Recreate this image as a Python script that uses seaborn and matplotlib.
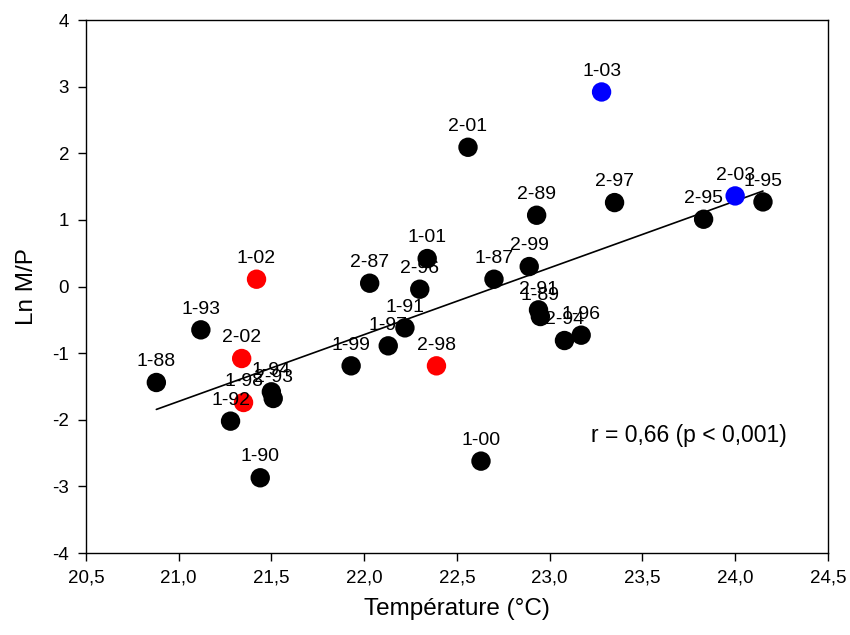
import numpy as np
import pandas as pd
import matplotlib
matplotlib.use("Agg")
import matplotlib.pyplot as plt
from matplotlib.ticker import FuncFormatter
import seaborn as sns

# Station-year codes, water temperature (°C) and ln(M/P)
codes = ["1-88", "1-93", "1-02", "2-02", "1-98", "1-92", "1-94", "2-93", "1-90",
         "1-99", "1-97", "1-91", "2-87", "2-96", "1-01", "2-98", "2-01", "1-87",
         "2-99", "2-89", "2-91", "1-89", "2-94", "1-96", "1-00", "1-03", "2-97",
         "2-95", "2-03", "1-95"]
temperature = [20.88, 21.12, 21.42, 21.34, 21.35, 21.28, 21.50, 21.51, 21.44,
               21.93, 22.13, 22.22, 22.03, 22.30, 22.34, 22.39, 22.56, 22.70,
               22.89, 22.93, 22.94, 22.95, 23.08, 23.17, 22.63, 23.28, 23.35,
               23.83, 24.00, 24.15]
ln_mp = [-1.44, -0.65, 0.11, -1.08, -1.74, -2.02, -1.58, -1.68, -2.87,
         -1.19, -0.89, -0.62, 0.05, -0.04, 0.42, -1.19, 2.09, 0.11,
         0.30, 1.07, -0.35, -0.45, -0.81, -0.73, -2.62, 2.92, 1.26,
         1.01, 1.36, 1.27]
group = ["base", "base", "red", "red", "red", "base", "base", "base", "base",
         "base", "base", "base", "base", "base", "base", "red", "base", "base",
         "base", "base", "base", "base", "base", "base", "base", "blue", "base",
         "base", "blue", "base"]

x_ticks = [20.5, 21.0, 21.5, 22.0, 22.5, 23.0, 23.5, 24.0, 24.5]
y_ticks = [-4, -3, -2, -1, 0, 1, 2, 3, 4]
stat_text = "r = 0,66 (p < 0,001)"

df = pd.DataFrame({"code": codes, "temp": temperature, "lnmp": ln_mp, "grp": group})

sns.set_style("ticks")
plt.rcParams["font.family"] = ["Liberation Sans", "DejaVu Sans"]
plt.rcParams["text.color"] = "black"
plt.rcParams["axes.labelcolor"] = "black"

fig = plt.figure(figsize=(8.5, 6.35), dpi=100)
ax = fig.add_axes([0.101, 0.129, 0.873, 0.8395])

# colored points below the labels
sns.scatterplot(data=df[df.grp == "red"], x="temp", y="lnmp", color="#ff0000",
                s=195, edgecolor="none", ax=ax, zorder=2, legend=False)

for _, row in df.iterrows():
    ax.annotate(row.code, (row.temp, row.lnmp), xytext=(0, 15),
                textcoords="offset points", ha="center", va="center",
                fontsize=14, color="black", zorder=3)

# least-squares regression line
sns.regplot(data=df, x="temp", y="lnmp", scatter=False, ci=None, truncate=True,
            ax=ax, line_kws={"color": "black", "lw": 1.2, "zorder": 4})

sns.scatterplot(data=df[df.grp == "blue"], x="temp", y="lnmp", color="#0000ff",
                s=195, edgecolor="none", ax=ax, zorder=5, legend=False)
sns.scatterplot(data=df[df.grp == "base"], x="temp", y="lnmp", color="black",
                s=195, edgecolor="none", ax=ax, zorder=5, legend=False)

ax.text(23.75, -2.24, stat_text, ha="center", va="center", fontsize=16.5,
        color="black")

ax.set_xlim(x_ticks[0], x_ticks[-1])
ax.set_ylim(y_ticks[0], y_ticks[-1])
ax.set_xticks(x_ticks)
ax.set_yticks(y_ticks)
ax.xaxis.set_major_formatter(FuncFormatter(lambda v, p: f"{v:.1f}".replace(".", ",")))
ax.yaxis.set_major_formatter(FuncFormatter(lambda v, p: f"{v:.0f}"))
ax.tick_params(axis="both", direction="out", length=6, width=1, labelsize=13.5,
               colors="black", pad=6)
for sp in ax.spines.values():
    sp.set_visible(True)
    sp.set_color("black")
    sp.set_linewidth(1)

ax.set_xlabel("Température (°C)", fontsize=17.5, labelpad=8)
ax.set_ylabel("Ln M/P", fontsize=17.5, labelpad=10)

fig.savefig("out.png", dpi=100)
